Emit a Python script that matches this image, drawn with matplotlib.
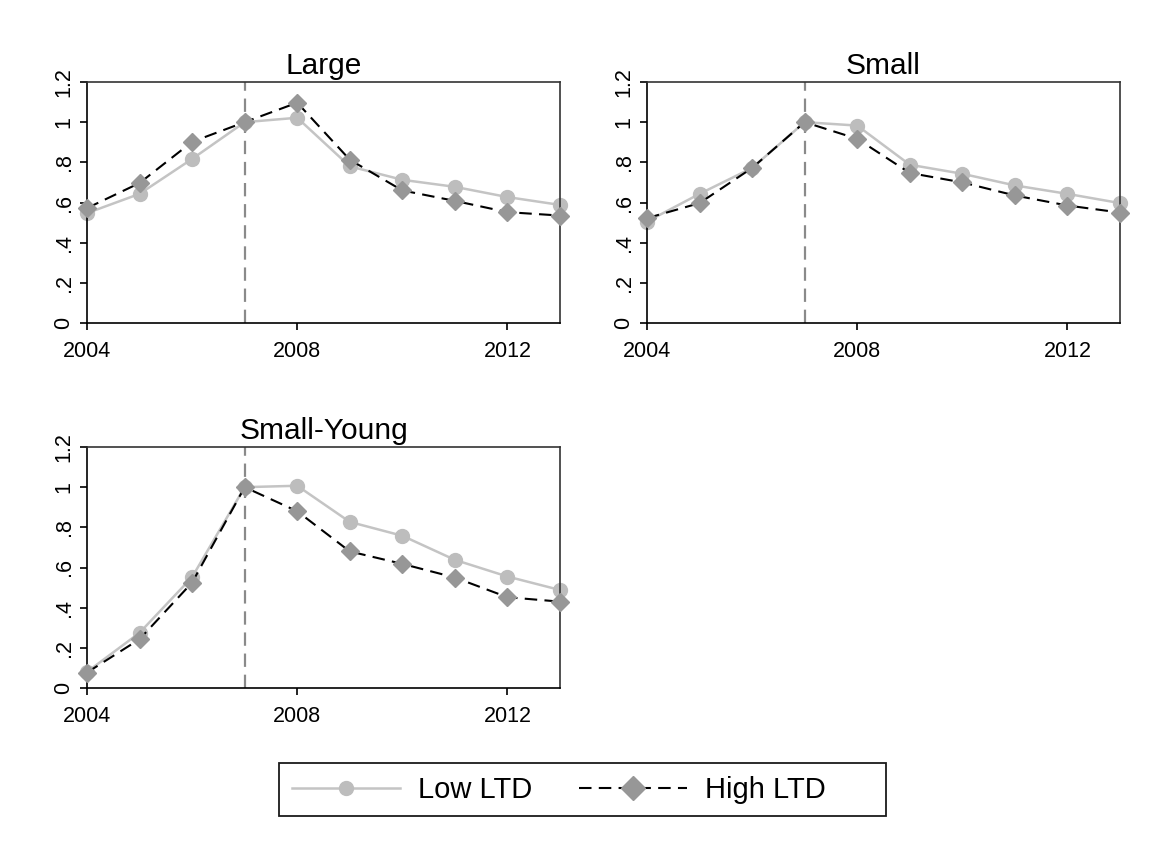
import matplotlib
matplotlib.use("Agg")
import matplotlib.pyplot as plt
from matplotlib.lines import Line2D
from matplotlib.patches import Rectangle

plt.rcParams['font.family'] = ['Liberation Sans', 'DejaVu Sans']

years = [2004, 2005, 2006, 2007, 2008, 2009, 2010, 2011, 2012, 2013]

large_low = [0.547, 0.643, 0.817, 1.0, 1.022, 0.780, 0.713, 0.678, 0.627, 0.588]
large_high = [0.572, 0.697, 0.902, 1.0, 1.097, 0.813, 0.660, 0.608, 0.552, 0.535]

small_low = [0.505, 0.643, 0.772, 1.0, 0.983, 0.788, 0.743, 0.685, 0.643, 0.597]
small_high = [0.522, 0.597, 0.772, 1.0, 0.917, 0.747, 0.700, 0.635, 0.585, 0.550]

sy_low = [0.080, 0.275, 0.552, 1.0, 1.007, 0.827, 0.758, 0.638, 0.555, 0.488]
sy_high = [0.077, 0.243, 0.525, 1.0, 0.880, 0.680, 0.618, 0.550, 0.452, 0.430]

panel_titles = ["Large", "Small", "Small-Young"]
series_labels = ["Low LTD", "High LTD"]
yticks = [0, 0.2, 0.4, 0.6, 0.8, 1.0, 1.2]
ytick_labels = ["0", ".2", ".4", ".6", ".8", "1", "1.2"]
xticks = [2004, 2008, 2012]
event_year = 2007

W, H = 1151, 841
fig = plt.figure(figsize=(W / 100, H / 100), dpi=100)

LOW_LINE = "#c4c4c4"
LOW_MARK = "#bdbdbd"
HIGH_MARK = "#979797"
DASH = (0, (6, 3.5))


def add_panel(left_px, top_px, title, low, high):
    w_px, h_px = 473, 241
    ax = fig.add_axes([left_px / W, 1 - (top_px + h_px) / H, w_px / W, h_px / H])
    ax.axvline(event_year, color="#8a8a8a", lw=1.6, ls=DASH, zorder=1)
    ax.plot(years, low, color=LOW_LINE, lw=1.8, marker="o", ms=10,
            mfc=LOW_MARK, mec=LOW_MARK, zorder=2, clip_on=False)
    ax.plot(years, high, color="black", lw=1.5, ls=DASH, marker="D", ms=9.5,
            mfc=HIGH_MARK, mec=HIGH_MARK, zorder=3, clip_on=False)
    ax.set_xlim(2004, 2013)
    ax.set_ylim(0, 1.2)
    ax.set_xticks(xticks)
    ax.set_xticklabels([str(x) for x in xticks], fontsize=15.5)
    ax.set_yticks(yticks)
    ax.set_yticklabels(ytick_labels, fontsize=15.5, rotation=90, va="center")
    ax.tick_params(direction="out", length=5, width=1.2, color="black")
    ax.tick_params(axis="x", pad=8)
    ax.tick_params(axis="y", pad=4)
    for s in ax.spines.values():
        s.set_linewidth(1.2)
        s.set_color("#333333")
    ax.spines["left"].set_color("black")
    ax.spines["bottom"].set_color("black")
    ax.set_title(title, fontsize=21.5, pad=6)
    return ax


add_panel(87, 82, panel_titles[0], large_low, large_high)
add_panel(647, 82, panel_titles[1], small_low, small_high)
add_panel(87, 447, panel_titles[2], sy_low, sy_high)

# legend frame box, with extra room on the right
fig.patches.append(Rectangle((279 / W, 1 - 816 / H), (886 - 279) / W, 53 / H,
                             transform=fig.transFigure, fill=False,
                             edgecolor="#1a1a1a", linewidth=1.3))

handles = [
    Line2D([0], [0], color=LOW_LINE, lw=1.8, marker="o", ms=10,
           mfc=LOW_MARK, mec=LOW_MARK),
    Line2D([0], [0], color="black", lw=1.5, ls=DASH, marker="D", ms=12,
           mfc=HIGH_MARK, mec=HIGH_MARK),
]
leg = fig.legend(handles, series_labels, loc="center left",
                 bbox_to_anchor=(292 / W, 1 - 790 / H), ncol=2, fontsize=21,
                 frameon=False, handlelength=3.7, columnspacing=1.6,
                 handletextpad=0.62, borderpad=0, borderaxespad=0)

fig.savefig("out.png", dpi=100, facecolor="white")
